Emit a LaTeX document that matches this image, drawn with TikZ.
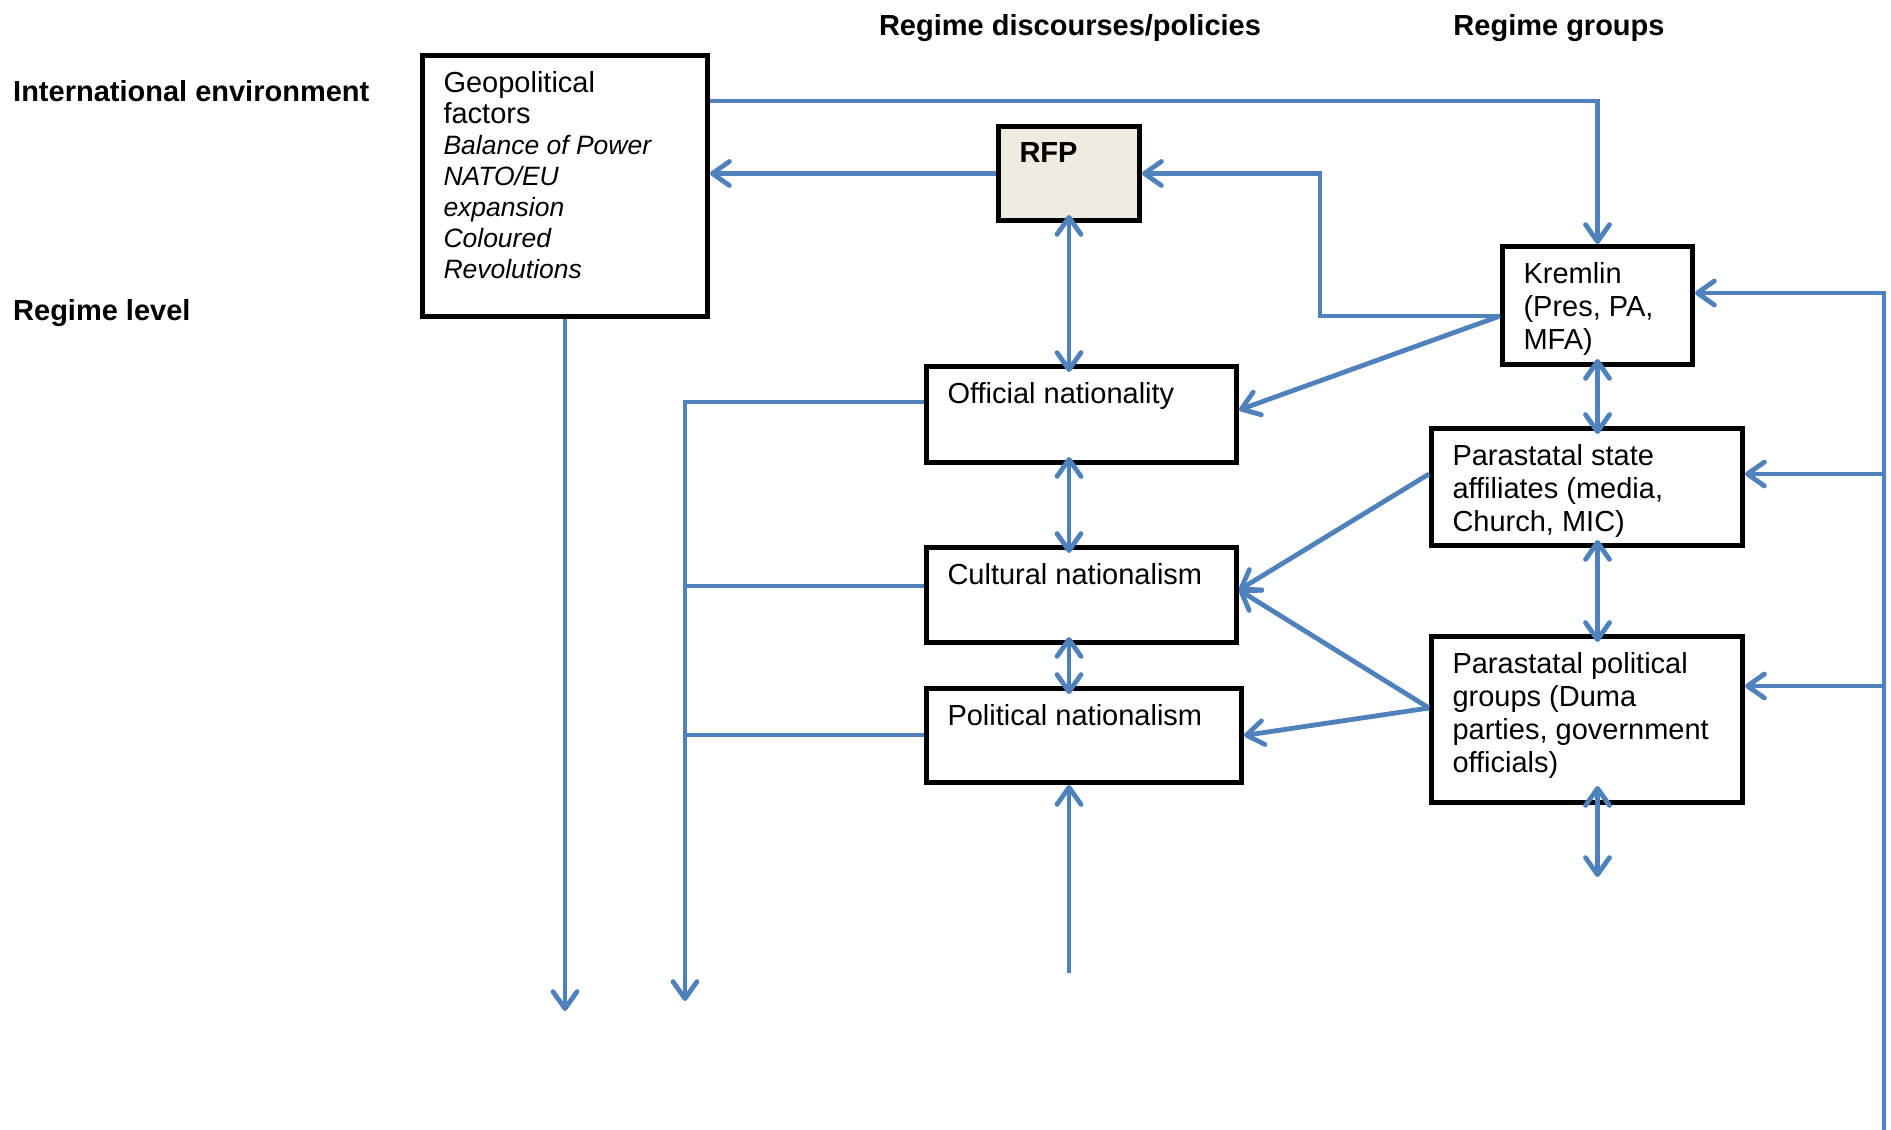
\documentclass[tikz,border=0pt]{standalone}
\usepackage{fontspec}
\setmainfont{Liberation Sans}
\usepackage{tikz}
\usetikzlibrary{arrows.meta}
\definecolor{linkblue}{HTML}{4F81BD}
\definecolor{rfpfill}{HTML}{EEECE1}
\tikzstyle{box}=[draw,line width=5pt,rectangle,anchor=north west,inner xsep=21pt,inner ysep=16pt,font=\fontsize{29}{33}\selectfont]
\tikzstyle{link}=[draw=linkblue,line width=4.8pt,>={Straight Barb[length=17pt,width=24pt,round]}]
\tikzstyle{through}=[shorten <=-8pt,shorten >=-8pt]
\tikzstyle{heading}=[inner sep=0pt,font=\bfseries\fontsize{29}{33}\selectfont]
\newcommand{\boxtext}[3]{\parbox[t][#2pt][t]{#1pt}{#3}}
\newcommand{\geoitem}[1]{{\fontsize{26.5}{31}\selectfont\itshape #1}}

\begin{document}
\begin{tikzpicture}[x=1pt,y=-1pt]
\useasboundingbox (0,0) rectangle (1891,1130);
\node[heading,anchor=base west] (intenv) at (13,101) {International environment};
\node[heading,anchor=base west] (reglevel) at (13,320) {Regime level};
\node[heading,anchor=base] (discourses) at (1070,35) {Regime discourses/policies};
\node[heading,anchor=base] (groups) at (1559,35) {Regime groups};
\node[box] (geo) at (420,53) {\boxtext{243}{229}{\fontsize{29}{31}\selectfont Geopolitical\\factors\\\geoitem{Balance of Power}\\\geoitem{NATO/EU}\\\geoitem{expansion}\\\geoitem{Coloured}\\\geoitem{Revolutions}}};
\node[box,fill=rfpfill] (rfp) at (996,124) {\boxtext{99}{62}{\textbf{RFP}}};
\node[box] (off) at (924,364) {\boxtext{268}{64}{Official nationality}};
\node[box] (cul) at (924,545) {\boxtext{268}{63}{Cultural nationalism}};
\node[box] (pol) at (924,686) {\boxtext{273}{62}{Political nationalism}};
\node[box] (krem) at (1500,244) {\boxtext{148}{86}{Kremlin\\(Pres, PA,\\MFA)}};
\node[box] (ps) at (1429,426) {\boxtext{269}{85}{Parastatal state\\affiliates (media,\\Church, MIC)}};
\node[box] (pp) at (1429,634) {\boxtext{269}{134}{Parastatal political\\groups (Duma\\parties, government\\officials)}};
% top and middle
\coordinate (kl) at (krem.west |- 0,316);
\draw[link,->] (geo.east |- 0,101) -| (krem.north);
\draw[link,->] (rfp.west) -- (rfp.west -| geo.east);
\draw[link,->] (kl) -- (kl -| 1320,0) |- (rfp.east);
\draw[link,->] (kl) -- (off.east |- 0,410);
\draw[link,<->,through] (rfp.south) -- (rfp.south |- off.north);
\draw[link,<->,through] (rfp.south |- off.south) -- (rfp.south |- cul.north);
\draw[link,<->,through] (rfp.south |- cul.south) -- (rfp.south |- pol.north);
\coordinate (polin) at (rfp.south |- 0,973);
\draw[link,->] (polin) -- (polin |- pol.south);
% regime groups
\coordinate (psl) at (ps.west |- 0,474);
\coordinate (ppl) at (pp.west |- 0,708);
\draw[link,->] (psl) -- (cul.east |- 0,590);
\draw[link,->] (ppl) -- (cul.east |- 0,590);
\draw[link,->] (ppl) -- (pol.east);
\draw[link,<->,through] (krem.south) -- (krem.south |- ps.north);
\draw[link,<->,through] (krem.south |- ps.south) -- (krem.south |- pp.north);
\coordinate (ppout) at (krem.south |- 0,877);
\draw[link,<->] (krem.south |- 0,786) -- (ppout);
% right bus
\coordinate (busend) at (1884,1130);
\draw[link,->] (busend) |- (krem.east |- 0,293);
\draw[link,->] (busend |- 0,474) -- (ps.east |- 0,474);
\draw[link,->] (busend |- 0,686) -- (pp.east |- 0,686);
% left outputs
\coordinate (geoout) at (geo.south |- 0,1011);
\draw[link,->] (geo.south) -- (geoout);
\coordinate (natout) at (685,1001);
\draw[link,->] (off.west |- 0,402) -| (natout);
\draw[link] (cul.west |- 0,586) -- (natout |- 0,586);
\draw[link] (pol.west |- 0,735) -- (natout |- 0,735);
\end{tikzpicture}
\end{document}
